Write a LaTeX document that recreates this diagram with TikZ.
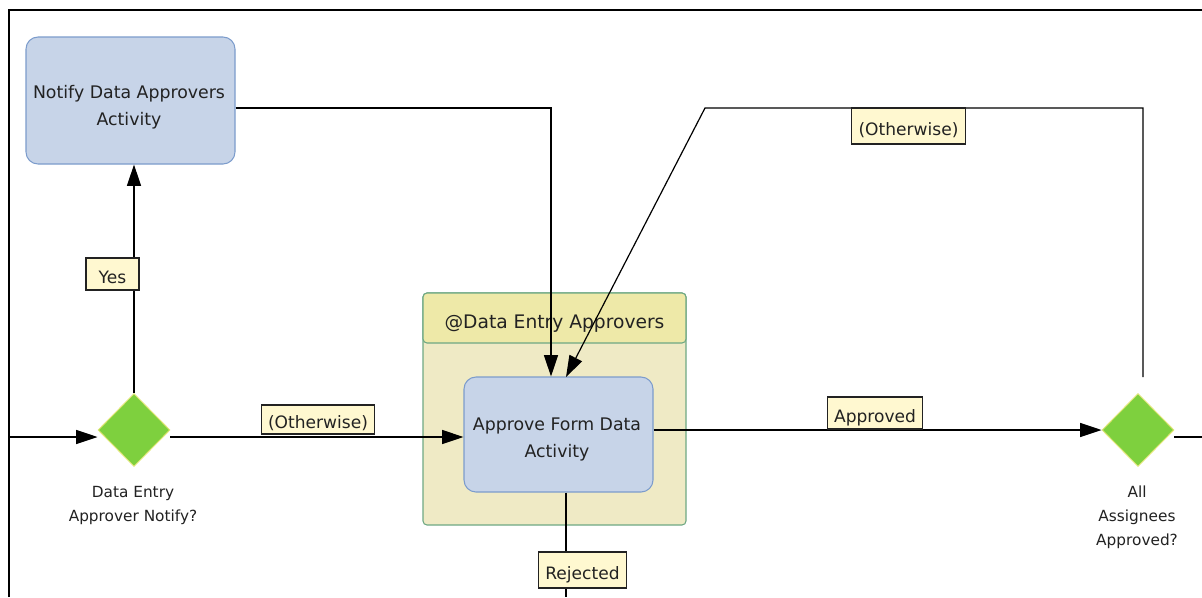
\documentclass[tikz,border=0pt]{standalone}
\usepackage{fontspec}
\setmainfont{DejaVu Sans}
\usetikzlibrary{shapes.geometric,arrows.meta}
\definecolor{taskfill}{RGB}{199,212,232}
\definecolor{taskline}{RGB}{124,156,204}
\definecolor{gatefill}{RGB}{126,208,62}
\definecolor{gateline}{RGB}{226,230,120}
\definecolor{lanefill}{RGB}{239,234,197}
\definecolor{headfill}{RGB}{238,233,168}
\definecolor{laneline}{RGB}{110,168,132}
\definecolor{tagfill}{RGB}{255,248,208}
\definecolor{ink}{RGB}{34,34,34}
\tikzset{
  task/.style={rectangle, rounded corners=9pt, draw=taskline, line width=0.8pt,
    fill=taskfill, inner sep=0pt},
  tasktext/.style={align=center, text=ink, inner sep=0pt,
    font=\fontsize{13}{20.5}\selectfont},
  gate/.style={diamond, fill=gatefill, draw=gateline, line width=0.7pt,
    minimum width=54pt, minimum height=54.75pt, inner sep=0pt},
  gatelabel/.style={align=center, text=ink, inner sep=0pt,
    font=\fontsize{11.5}{18}\selectfont},
  lanebox/.style={rectangle, rounded corners=3pt, draw=laneline, line width=0.8pt,
    fill=lanefill, minimum width=197.25pt, minimum height=174pt, inner sep=0pt},
  lanehead/.style={rectangle, rounded corners=3pt, draw=laneline, line width=0.8pt,
    fill=headfill, minimum width=197.25pt, minimum height=37.5pt, inner sep=0pt,
    text height=15.5pt, text depth=0pt, text=ink,
    font=\fontsize{14}{16}\selectfont},
  tag/.style={rectangle, draw=ink, line width=0.8pt, fill=tagfill, text=ink,
    inner xsep=5pt, inner ysep=0pt, minimum height=24pt, minimum width=39.75pt,
    text height=14pt, text depth=0pt,
    font=\fontsize{12.8}{16}\selectfont},
  plain/.style={draw=black, line width=0.9pt},
  flow/.style={plain, -{Triangle[length=16pt,width=10.5pt]}},
  frame/.style={draw=black, line width=1pt}
}
\begin{document}
\begin{tikzpicture}[x=0.75pt,y=-0.75pt]
\useasboundingbox (0,0) rectangle (1202,597);
\fill[white] (0,0) rectangle (1202,597);

% pool border
\draw[frame] (9,597) -- (9,10) -- (1202,10);

% lane with its header
\node[lanebox] (lane) at (554.5,409) {};
\node[lanehead, anchor=north] (lanehd) at (lane.north) {@Data Entry Approvers};

% activities and gateways
\node[task, minimum width=156.75pt, minimum height=95.25pt] (notify) at (130.5,100.5) {};
\node[tasktext] (notifytext) at (129,107.5) {Notify Data Approvers\\Activity};
\node[task, minimum width=141.75pt, minimum height=86.25pt] (approve) at (558.5,434.5) {};
\node[tasktext] (approvetext) at (557,439.5) {Approve Form Data\\Activity};
\node[gate] (d1) at (134,430) {};
\node[gate] (d2) at (1138,430) {};
\node[gatelabel] (d1t) at (133,505.5) {Data Entry\\Approver Notify?};
\node[gatelabel] (d2t) at (1137,517.5) {All\\Assignees\\Approved?};

% routing points
\coordinate (inlet) at (9,437);
\coordinate (k1) at (551,108);
\coordinate (k2) at (705,108);
\coordinate (k3) at (1143,108);
\coordinate (k4) at (566,377);
\coordinate (rej) at (566,597);
\coordinate (outlet) at (1202,437);

% sequence flows
\draw[flow] (inlet) -- (inlet -| d1.west);
\draw[flow] (d1.north) -- (d1.north |- notify.south);
\draw[flow] (d1.east |- inlet) -- (approve.west |- inlet);
\draw[flow] (notify.east |- k1) -- (k1) -- (k1 |- approve.north);
\draw[flow] ([shift={(5,-16)}]d2.north) -- (k3) -- (k2) -- (k4);
\draw[flow] (approve.east |- d2.west) -- (d2.west);
\draw[plain] (d2.east |- outlet) -- (outlet);
\draw[plain] (approve.south -| rej) -- (rej);

% flow conditions
\node[tag] (tyes) at (112.5,274) {Yes};
\node[tag, minimum height=21.75pt, text height=13pt] (tother1) at (318,419.5) {(Otherwise)};
\node[tag, minimum height=27pt] (tother2) at (908.5,126) {(Otherwise)};
\node[tag] (tappr) at (875,413) {Approved};
\node[tag, minimum height=27pt] (trej) at (582.5,570) {Rejected};
\end{tikzpicture}
\end{document}
